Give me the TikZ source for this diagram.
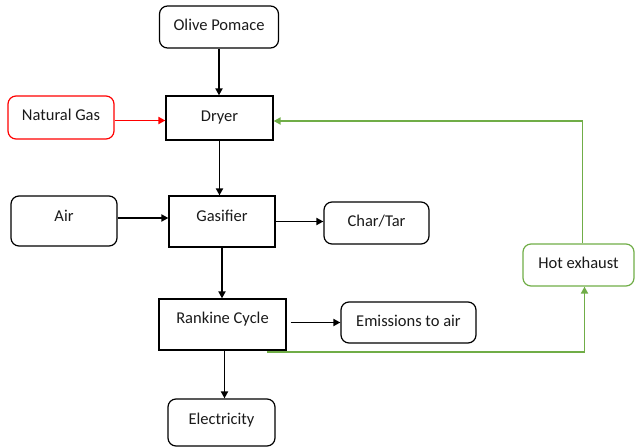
\documentclass[tikz,border=0pt]{standalone}
\usepackage{fontspec}
\setmainfont{Carlito}
\usetikzlibrary{arrows.meta}
\definecolor{exgreen}{HTML}{70AD47}
\definecolor{gasred}{HTML}{FF0000}
\definecolor{labelink}{HTML}{1A1A1A}
\begin{document}
\begin{tikzpicture}[x=1pt,y=-1pt,
  every node/.style={font=\fontsize{16.5}{19}\selectfont, text=labelink, inner sep=0pt, text height=11pt, text depth=3.5pt},
  rbox/.style={draw=black, line width=1.2pt, rounded corners=8pt},
  sbox/.style={draw=black, line width=1.2pt},
  flow/.style={line width=1.8pt, -{Triangle[length=7pt,width=7pt]}},
  redflow/.style={flow, draw=gasred, -{Triangle[length=7pt,width=7pt,fill=gasred]}},
  greenflow/.style={flow, draw=exgreen, -{Triangle[length=7pt,width=7pt,fill=exgreen]}}]
\useasboundingbox (0,0) rectangle (635,447);

% process blocks
\node[rbox, minimum width=119pt, minimum height=42pt] (olive) at (219,27) {Olive Pomace};
\node[sbox, minimum width=107pt, minimum height=44pt] (dryer) at (219.5,118) {Dryer};
\node[rbox, draw=gasred, minimum width=106pt, minimum height=43pt, text depth=5.5pt] (natgas) at (61,117.5) {Natural Gas};
\node[rbox, minimum width=106pt, minimum height=50pt, text depth=9.5pt] (air) at (64,221) {Air};
\node[sbox, minimum width=106pt, minimum height=51pt, text depth=11.5pt] (gasifier) at (222,221.5) {Gasifier};
\node[rbox, minimum width=105pt, minimum height=42pt, text depth=4.5pt] (chartar) at (376.5,223) {Char/Tar};
\node[sbox, minimum width=127pt, minimum height=51pt, text depth=13.5pt] (rankine) at (222.5,324.5) {Rankine Cycle};
\node[rbox, minimum width=135pt, minimum height=41pt] (emissions) at (408.5,322.5) {Emissions to air};
\node[rbox, draw=exgreen, minimum width=111pt, minimum height=42pt, text depth=4.5pt] (hot) at (578.5,265) {Hot exhaust};
\node[rbox, minimum width=107pt, minimum height=47pt, text depth=7.5pt] (elec) at (221.5,422.5) {Electricity};

\coordinate (exhaustout) at (267,352);

% main flow
\draw[flow] (olive.south) -- (olive.south |- dryer.north);
\draw[redflow] ([yshift=-3pt]natgas.east) -- ([yshift=-3pt]natgas.east -| dryer.west);
\draw[flow] (dryer.south) -- (dryer.south |- gasifier.north);
\draw[flow] ([yshift=3pt]air.east) -- ([yshift=3pt]air.east -| gasifier.west);
\draw[flow] (gasifier.east) -- (gasifier.east -| chartar.west);
\draw[flow] (gasifier.south) -- (gasifier.south |- rankine.north);
\draw[flow] ([xshift=4pt]rankine.east |- emissions.west) -- (emissions.west);
\draw[flow] ([xshift=2pt]rankine.south) -- ([xshift=2pt]rankine.south |- elec.north);

% exhaust heat recovery loop
\draw[greenflow] (exhaustout) -| ([xshift=6pt]hot.south);
\draw[greenflow] ([xshift=4pt]hot.north) |- ([yshift=-3pt]dryer.east);
\end{tikzpicture}
\end{document}
